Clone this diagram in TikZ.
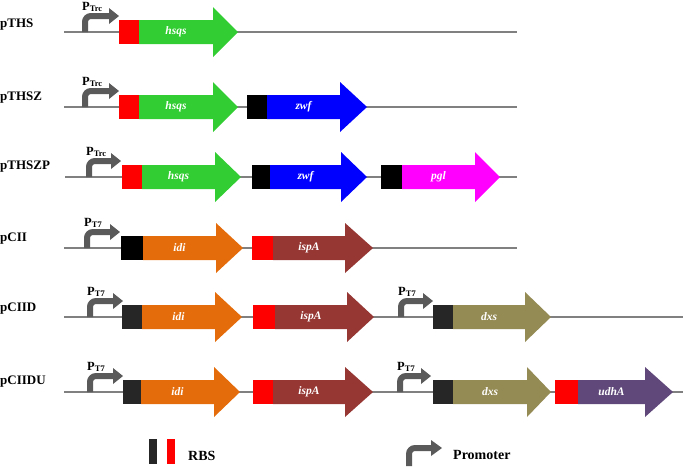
\documentclass[tikz,border=0pt]{standalone}
\usepackage{fontspec}
\setmainfont{Liberation Serif}
\definecolor{hsqscol}{RGB}{50,205,50}
\definecolor{zwfcol}{RGB}{0,0,255}
\definecolor{pglcol}{RGB}{255,0,255}
\definecolor{idicol}{RGB}{228,108,10}
\definecolor{ispcol}{RGB}{150,55,52}
\definecolor{dxscol}{RGB}{148,138,84}
\definecolor{udhcol}{RGB}{96,73,122}
\definecolor{rbsred}{RGB}{255,0,0}
\definecolor{rbsblack}{RGB}{0,0,0}
\definecolor{rbsdark}{RGB}{38,38,38}
\definecolor{linecol}{RGB}{128,128,128}
\definecolor{promcol}{RGB}{90,90,90}
\tikzset{
  backbone/.style={draw=linecol, line width=1.6pt},
  genelabel/.style={text=white, font=\fontsize{11.5}{12}\selectfont\bfseries\itshape, inner sep=0pt},
  rowlabel/.style={anchor=west, font=\fontsize{13}{14}\selectfont\bfseries, inner sep=0pt},
  promlabel/.style={anchor=base west, inner sep=0pt},
  legendtext/.style={anchor=west, font=\fontsize{14}{15}\selectfont\bfseries, inner sep=0pt},
}
% #1 name, #2 body start, #3 head start, #4 tip, #5 y, #6 colour, #7 label
\newcommand{\genearrow}[7]{%
  \fill[#6] (#2,#5-12) -- (#3,#5-12) -- (#3,#5-25) -- (#4,#5) -- (#3,#5+25) -- (#3,#5+12) -- (#2,#5+12) -- cycle;
  \node[genelabel] (#1) at ({(#2+#3)/2},#5) {#7};
}
% #1 name, #2 x1, #3 x2, #4 y, #5 colour
\newcommand{\rbsbox}[5]{%
  \fill[#5] (#2,#4-12) rectangle (#3,#4+12);
  \coordinate (#1) at ({(#2+#3)/2},#4);
}
% #1 name, #2 stem x, #3 tip x, #4 y, #5 subscript
\newcommand{\promoter}[5]{%
  \draw[promcol, line width=6pt, rounded corners=6pt] (#2,#4) -- (#2,#4-16) -- (#3-8,#4-16);
  \fill[promcol] (#3-10,#4-24) -- (#3,#4-16) -- (#3-10,#4-8) -- cycle;
  \node[promlabel] (#1) at (#2-3,#4-22) {\fontsize{12.5}{13}\selectfont\bfseries P\raisebox{-1pt}{\fontsize{8.5}{9}\selectfont #5}};
}
\begin{document}
\begin{tikzpicture}[x=1pt,y=-1pt]
\useasboundingbox (0,0) rectangle (685,467);

% Row 1: pTHS
\draw[backbone] (64,32) coordinate (l1a) -- (517,32) coordinate (l1b);
\node[rowlabel] (r1) at (0,25) {pTHS};
\promoter{p1}{85}{119}{32}{Trc}
\rbsbox{b1}{119}{139}{32}{rbsred}
\genearrow{g1}{139}{213}{238}{32}{hsqscol}{hsqs}

% Row 2: pTHSZ
\draw[backbone] (64,107) coordinate (l2a) -- (517,107) coordinate (l2b);
\node[rowlabel] (r2) at (0,98) {pTHSZ};
\promoter{p2}{85}{119}{107}{Trc}
\rbsbox{b2}{119}{139}{107}{rbsred}
\genearrow{g2}{139}{213}{238}{107}{hsqscol}{hsqs}
\rbsbox{b2b}{247}{267}{107}{rbsblack}
\genearrow{g2b}{267}{340}{367}{107}{zwfcol}{zwf}

% Row 3: pTHSZP
\draw[backbone] (65,177) coordinate (l3a) -- (517,177) coordinate (l3b);
\node[rowlabel] (r3) at (0,167) {pTHSZP};
\promoter{p3}{89}{121}{177}{Trc}
\rbsbox{b3}{122}{142}{177}{rbsred}
\genearrow{g3}{142}{215}{241}{177}{hsqscol}{hsqs}
\rbsbox{b3b}{252}{270}{177}{rbsblack}
\genearrow{g3b}{270}{341}{367}{177}{zwfcol}{zwf}
\rbsbox{b3c}{381}{402}{177}{rbsblack}
\genearrow{g3c}{402}{475}{500}{177}{pglcol}{pgl}

% Row 4: pCII
\draw[backbone] (64,248) coordinate (l4a) -- (517,248) coordinate (l4b);
\node[rowlabel] (r4) at (0,239) {pCII};
\promoter{p4}{87}{120}{248}{T7}
\rbsbox{b4}{121}{143}{248}{rbsblack}
\genearrow{g4}{143}{216}{243}{248}{idicol}{idi}
\rbsbox{b4b}{252}{273}{248}{rbsred}
\genearrow{g4b}{273}{345}{373}{248}{ispcol}{ispA}

% Row 5: pCIID
\draw[backbone] (64,317) coordinate (l5a) -- (683,317) coordinate (l5b);
\node[rowlabel] (r5) at (0,309) {pCIID};
\promoter{p5}{90}{123}{317}{T7}
\rbsbox{b5}{122}{142}{317}{rbsdark}
\genearrow{g5}{142}{215}{242}{317}{idicol}{idi}
\rbsbox{b5b}{253}{275}{317}{rbsred}
\genearrow{g5b}{275}{347}{374}{317}{ispcol}{ispA}
\promoter{p5b}{401}{433}{317}{T7}
\rbsbox{b5c}{433}{453}{317}{rbsdark}
\genearrow{g5c}{453}{525}{551}{317}{dxscol}{dxs}

% Row 6: pCIIDU
\draw[backbone] (64,392) coordinate (l6a) -- (683,392) coordinate (l6b);
\node[rowlabel] (r6) at (0,382) {pCIIDU};
\promoter{p6}{90}{123}{392}{T7}
\rbsbox{b6}{123}{141}{392}{rbsdark}
\genearrow{g6}{141}{214}{240}{392}{idicol}{idi}
\rbsbox{b6b}{253}{273}{392}{rbsred}
\genearrow{g6b}{273}{345}{373}{392}{ispcol}{ispA}
\promoter{p6b}{400}{431}{392}{T7}
\rbsbox{b6c}{433}{453}{392}{rbsdark}
\genearrow{g6c}{453}{527}{551}{392}{dxscol}{dxs}
\rbsbox{b6d}{555}{578}{392}{rbsred}
\genearrow{g6d}{578}{645}{673}{392}{udhcol}{udhA}

% Legend
\fill[rbsdark] (149,439) rectangle (157,464);
\fill[rbsred] (167,439) rectangle (175,464);
\node[legendtext] (lrbs) at (188,456) {RBS};
\draw[promcol, line width=6pt, rounded corners=6pt] (409,466) -- (409,448) -- (433,448);
\fill[promcol] (431,440) -- (442,448) -- (431,456) -- cycle;
\node[legendtext] (lprom) at (453,455) {Promoter};
\end{tikzpicture}
\end{document}
